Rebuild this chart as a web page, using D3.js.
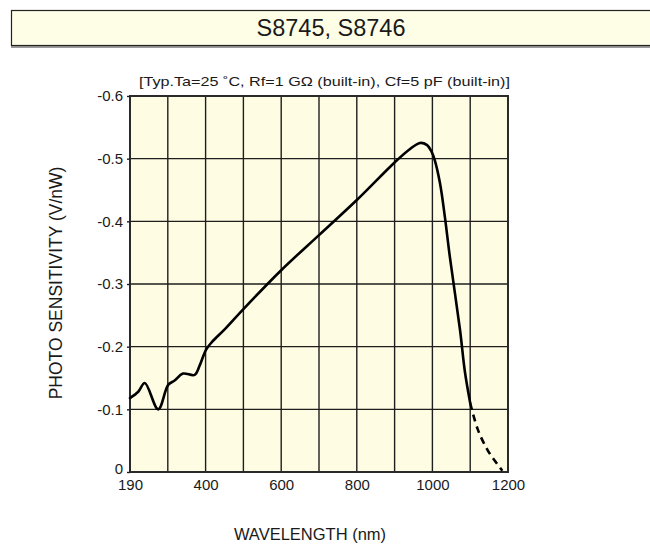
<!DOCTYPE html>
<html>
<head>
<meta charset="utf-8">
<script src="https://cdn.jsdelivr.net/npm/d3@7"></script>
<style>
  html, body { margin: 0; padding: 0; background: #ffffff; }
  svg { display: block; }
  text { font-family: "Liberation Sans", Arial, Helvetica, sans-serif; fill: #1a1a1a; }
</style>
</head>
<body>
<svg id="chart" width="650" height="545"></svg>
<script>
// ---- data ----
const title = "S8745, S8746";
const condition = "[Typ.Ta=25 \u02DAC, Rf=1 G\u03A9 (built-in), Cf=5 pF (built-in)]";
const xTitle = "WAVELENGTH (nm)";
const yTitle = "PHOTO SENSITIVITY (V/nW)";
const xGridValues = [190, 300, 400, 500, 600, 700, 800, 900, 1000, 1100, 1200];
const xTickValues = [190, 400, 600, 800, 1000, 1200];
const yTickValues = [0, -0.1, -0.2, -0.3, -0.4, -0.5, -0.6];
// measured curve (solid)
const solidWavelength = [190, 214, 233, 272, 301, 318, 340, 371, 385, 401, 416, 451, 500, 600, 700, 800, 900, 940, 967, 985, 998, 1006, 1020, 1033, 1046, 1073, 1086, 1100];
const solidSensitivity = [-0.118, -0.128, -0.142, -0.100, -0.139, -0.146, -0.157, -0.155, -0.171, -0.195, -0.207, -0.228, -0.260, -0.322, -0.378, -0.434, -0.494, -0.515, -0.525, -0.522, -0.511, -0.498, -0.461, -0.407, -0.344, -0.227, -0.160, -0.110];
// extrapolated tail (dashed)
const dashWavelength = [1100, 1120, 1146, 1170, 1185];
const dashSensitivity = [-0.110, -0.068, -0.035, -0.014, -0.002];

// ---- layout ----
const svg = d3.select("#chart");
const mLeft = 130, mTop = 96, w = 378, h = 376;

// title box
svg.append("rect").attr("x", 11).attr("y", 46).attr("width", 700).attr("height", 2).attr("fill", "#9a9a9a");
svg.append("rect").attr("x", 11.5).attr("y", 10.5).attr("width", 700).attr("height", 35)
  .attr("fill", "#fefee6").attr("stroke", "#222").attr("stroke-width", 1.2);
svg.append("text").attr("x", 331).attr("y", 36).attr("text-anchor", "middle")
  .attr("font-size", 23.5).text(title);

const x = d3.scaleLinear().domain([190, 300, 1200]).range([0, w * 0.1, w]);
const y = d3.scaleLinear().domain([0, -0.6]).range([h, 0]);

const g = svg.append("g").attr("transform", `translate(${mLeft},${mTop})`);

g.append("rect").attr("width", w).attr("height", h).attr("fill", "#fefde3");

// grid
g.selectAll(".vg").data(xGridValues).join("line")
  .attr("x1", d => x(d)).attr("x2", d => x(d)).attr("y1", 0).attr("y2", h)
  .attr("stroke", "#1e1e1e").attr("stroke-width", 1.4);
g.selectAll(".hg").data(yTickValues).join("line")
  .attr("x1", 0).attr("x2", w).attr("y1", d => y(d)).attr("y2", d => y(d))
  .attr("stroke", "#1e1e1e").attr("stroke-width", 1.4);

// frame
g.append("rect").attr("width", w).attr("height", h).attr("fill", "none")
  .attr("stroke", "#2a2a2a").attr("stroke-width", 2);

// y axis ticks & labels
const yAxis = d3.axisLeft(y).tickValues(yTickValues).tickSize(3).tickPadding(4)
  .tickFormat(d => d === 0 ? "0" : d.toFixed(1));
const ya = g.append("g").call(yAxis);
ya.select(".domain").remove();
ya.selectAll("line").attr("stroke", "#1e1e1e").attr("stroke-width", 1.4);
ya.selectAll("text").attr("font-size", 15).attr("fill", "#1a1a1a")
  .style("font-family", '"Liberation Sans", Arial, sans-serif');
ya.selectAll(".tick").filter(d => d === 0).select("text").attr("dy", "0.1em");

// x axis labels
const xAxis = d3.axisBottom(x).tickValues(xTickValues).tickSize(0).tickPadding(7)
  .tickFormat(d3.format("d"));
const xa = g.append("g").attr("transform", `translate(0,${h})`).call(xAxis);
xa.select(".domain").remove();
xa.selectAll("text").attr("font-size", 15).attr("fill", "#1a1a1a")
  .style("font-family", '"Liberation Sans", Arial, sans-serif');

// condition text
svg.append("text").attr("x", 139).attr("y", 86).attr("font-size", 13)
  .attr("textLength", 371).attr("lengthAdjust", "spacingAndGlyphs").text(condition);

// axis titles
svg.append("text").attr("x", 310).attr("y", 540).attr("text-anchor", "middle")
  .attr("font-size", 16.5).text(xTitle);
svg.append("text").attr("transform", "translate(62,283) rotate(-90)").attr("text-anchor", "middle")
  .attr("font-size", 17.5).text(yTitle);

// curves
const line = d3.line().x(d => x(d[0])).y(d => y(d[1])).curve(d3.curveCatmullRom.alpha(0.5));
const solid = solidWavelength.map((v, i) => [v, solidSensitivity[i]]);
const dash = dashWavelength.map((v, i) => [v, dashSensitivity[i]]);
g.append("path").attr("d", line(solid)).attr("fill", "none").attr("stroke", "#000")
  .attr("stroke-width", 2.6).attr("stroke-linejoin", "round").attr("stroke-linecap", "round");
g.append("path").attr("d", line(dash)).attr("fill", "none").attr("stroke", "#000")
  .attr("stroke-width", 2.6).attr("stroke-dasharray", "7,5");
</script>
</body>
</html>
